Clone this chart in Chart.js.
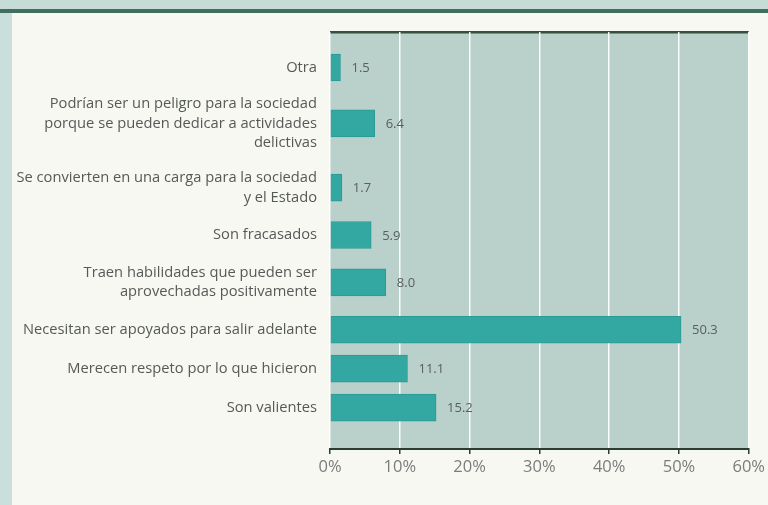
<!DOCTYPE html>
<html>
<head>
<meta charset="utf-8">
<script src="https://cdn.jsdelivr.net/npm/chart.js@4.4.0/dist/chart.umd.min.js"></script>
<style>
  html, body { margin: 0; padding: 0; }
  body {
    width: 768px;
    height: 505px;
    background: #f8f8f3;
    position: relative;
    overflow: hidden;
  }
  .band-top {
    position: absolute; left: 0; top: 0; width: 768px; height: 9px;
    background: #c6dcd7;
  }
  .rule-top {
    position: absolute; left: 0; top: 9px; width: 768px; height: 4px;
    background: #416e5f;
  }
  .band-left {
    position: absolute; left: 0; top: 0; width: 12px; height: 505px;
    background: #cadedb;
  }
  #wrap { position: absolute; left: 0; top: 0; width: 768px; height: 505px; }
</style>
</head>
<body>
<div class="band-left"></div>
<div class="band-top"></div>
<div class="rule-top"></div>
<div id="wrap"><canvas id="chart" width="768" height="505"></canvas></div>
<script>
const categories = [
  "Otra",
  ["Podrían ser un peligro para la sociedad", "porque se pueden dedicar a actividades", "delictivas"],
  ["Se convierten en una carga para la sociedad", "y el Estado"],
  "Son fracasados",
  ["Traen habilidades que pueden ser", "aprovechadas positivamente"],
  "Necesitan ser apoyados para salir adelante",
  "Merecen respeto por lo que hicieron",
  "Son valientes"
];
const percentages = [1.5, 6.4, 1.7, 5.9, 8.0, 50.3, 11.1, 15.2];
const xTicks = [0, 10, 20, 30, 40, 50, 60];

const font = "'Open Sans', 'Noto Sans', sans-serif";

// rows are stacked by how many text lines their label takes,
// so multi-line labels get more room (unit = one text line)
const rowGap = 1.3;
const lineCount = (c) => (Array.isArray(c) ? c.length : 1);
const rowPos = [];
categories.forEach((c, i) => {
  if (i === 0) { rowPos.push(0); return; }
  const prev = rowPos[i - 1];
  rowPos.push(prev + rowGap + (lineCount(categories[i - 1]) + lineCount(c)) / 2);
});

// grey-green plot panel with a dark rule on top
const panel = {
  id: "panel",
  beforeDraw(chart) {
    const { ctx, chartArea: a } = chart;
    ctx.save();
    ctx.fillStyle = "#b9d0cb";
    ctx.fillRect(a.left, a.top, a.right - a.left, a.bottom - a.top);
    ctx.fillStyle = "#34513f";
    ctx.fillRect(a.left, a.top - 1, a.right - a.left, 2.5);
    ctx.restore();
  }
};

// value printed after each bar
const valueLabels = {
  id: "valueLabels",
  afterDatasetsDraw(chart) {
    const { ctx } = chart;
    const meta = chart.getDatasetMeta(0);
    ctx.save();
    ctx.font = "13px " + font;
    ctx.fillStyle = "#5b5f5c";
    ctx.textBaseline = "middle";
    meta.data.forEach((bar, i) => {
      ctx.fillText(percentages[i].toFixed(1), bar.x + 11, bar.y + 1);
    });
    ctx.restore();
  }
};

new Chart(document.getElementById("chart"), {
  type: "bar",
  data: {
    datasets: [{
      data: percentages.map((v, i) => ({ x: v, y: rowPos[i] })),
      backgroundColor: "#33a8a2",
      borderColor: "#2c9993",
      borderWidth: 1,
      borderSkipped: "left",
      barThickness: 27
    }]
  },
  options: {
    indexAxis: "y",
    responsive: false,
    animation: false,
    layout: { padding: { top: 32, right: 18, left: 0, bottom: 0 } },
    plugins: {
      legend: { display: false },
      tooltip: { enabled: false }
    },
    scales: {
      x: {
        type: "linear",
        min: 0,
        max: 60,
        afterBuildTicks(scale) {
          scale.ticks = xTicks.map((v) => ({ value: v }));
        },
        afterFit(scale) { scale.height = 56; },
        grid: {
          color: "rgba(255,255,255,0.95)",
          lineWidth: 1.5,
          tickColor: "#2b3d30",
          tickLength: 5,
          drawOnChartArea: true
        },
        border: { color: "#2b3d30", width: 2 },
        ticks: {
          padding: 3,
          color: "#7a7d7b",
          font: { family: font, size: 16.5 },
          callback: (v) => v + "%"
        }
      },
      y: {
        type: "linear",
        reverse: true,
        offset: false,
        min: rowPos[0] - 2.1,
        max: rowPos[rowPos.length - 1] + 2.45,
        afterBuildTicks(scale) {
          scale.ticks = rowPos.map((v) => ({ value: v }));
        },
        afterFit(scale) { scale.width = 330; },
        grid: { display: false, drawTicks: false },
        border: { display: false },
        ticks: {
          autoSkip: false,
          padding: 13,
          color: "#555a57",
          font: { family: font, size: 14.7, lineHeight: 1.35 },
          callback: (v, i) => categories[i]
        }
      }
    }
  },
  plugins: [panel, valueLabels]
});
</script>
</body>
</html>
